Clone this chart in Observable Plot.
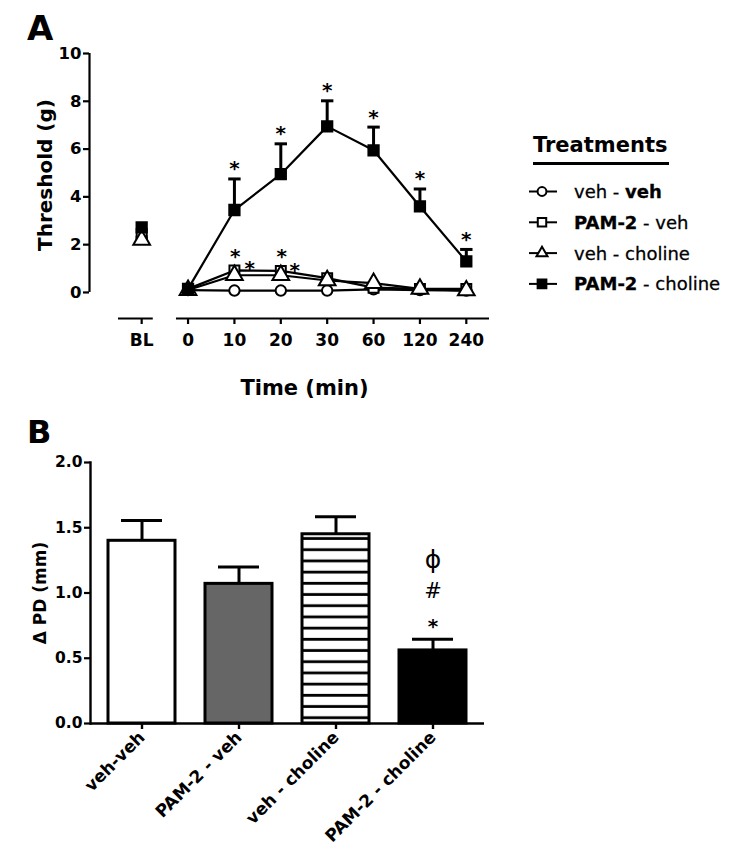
<!DOCTYPE html>
<html>
<head>
<meta charset="utf-8">
<script src="https://cdn.jsdelivr.net/npm/d3@7"></script>
<script src="https://cdn.jsdelivr.net/npm/@observablehq/plot@0.6"></script>
<style>
  body { margin: 0; background: #fff; }
  #root { position: relative; width: 750px; height: 861px; background: #fff; overflow: hidden; }
  #root > svg { position: absolute; left: 0; }
</style>
</head>
<body>
<div id="root"></div>
<script>
// ---------- DATA ----------
const timeLabels = ["BL", "0", "10", "20", "30", "60", "120", "240"];
const seriesNames = ["veh - veh", "PAM-2 - veh", "veh - choline", "PAM-2 - choline"];
const vehVeh = [2.3, 0.1, 0.08, 0.08, 0.08, 0.13, 0.1, 0.08];
const pamVeh = [2.45, 0.15, 0.92, 0.9, 0.6, 0.2, 0.15, 0.15];
const vehCho = [2.2, 0.1, 0.72, 0.72, 0.5, 0.39, 0.15, 0.08];
const pamCho = [2.72, 0.15, 3.45, 4.95, 6.95, 5.95, 3.6, 1.3];
const pamChoErr = [0.1, 0.05, 1.3, 1.27, 1.07, 0.97, 0.73, 0.5];
const pamChoSig = [false, false, true, true, true, true, true, true];
const lowStars = [{t: 2.02, v: 1.73}, {t: 2.33, v: 1.2}, {t: 3.02, v: 1.73}, {t: 3.3, v: 1.13}];
const yTicksA = [0, 2, 4, 6, 8, 10];

const groupsB = ["veh-veh", "PAM-2 - veh", "veh - choline", "PAM-2 - choline"];
const meanB = [1.40, 1.07, 1.45, 0.56];
const semB = [0.155, 0.13, 0.135, 0.085];
const yTicksB = [0, 0.5, 1.0, 1.5, 2.0];
const barFills = ["white", "#666666", "url(#hstripes)", "black"];

// ---------- COMMON ----------
const FONT = "DejaVu Sans, Liberation Sans, Arial, sans-serif";
const root = document.getElementById("root");
const ns = "http://www.w3.org/2000/svg";

// ---------- PANEL A ----------
const seriesValues = [vehVeh, pamVeh, vehCho, pamCho];
const seriesSymbols = ["circle", "square", "triangle", "square"];
const seriesFill = ["white", "white", "white", "black"];
const seriesR = [5.2, 5.6, 6.2, 5.8];
const rowsA = [];
seriesNames.forEach((s, k) => seriesValues[k].forEach((v, i) =>
  rowsA.push({series: s, k, i, v, top: k === 3 ? v + pamChoErr[i] : v, sig: k === 3 && pamChoSig[i]})));
const lineRows = rowsA.filter(d => d.i >= 1);
const errRows = rowsA.filter(d => d.k === 3 && d.i >= 2);
const xLeftA = -1.125, xRightA = 7.5, yBottomA = -1.09;
const axisSegments = [{from: -0.5, to: 0.25}, {from: 0.75, to: xRightA}];
const capSymbol = {draw(ctx, size) { const w = Math.sqrt(size); ctx.moveTo(-w / 2, 0); ctx.lineTo(w / 2, 0); }};

const plotA = Plot.plot({
  width: 750, height: 400,
  marginTop: 53, marginBottom: 82, marginLeft: 89, marginRight: 261,
  x: {domain: [xLeftA, xRightA]},
  y: {domain: [yBottomA, 10]},
  style: {fontFamily: FONT, color: "black", background: "transparent", overflow: "visible"},
  marks: [
    Plot.ruleX([xLeftA], {y1: 0, y2: 10, strokeWidth: 2.2}),
    Plot.ruleY(axisSegments, {x1: "from", x2: "to", y: () => yBottomA, strokeWidth: 2.2}),
    Plot.axisY({ticks: yTicksA, tickSize: 6, tickPadding: 2, fontSize: 16.5, fontWeight: "bold", strokeWidth: 2.2, label: null}),
    Plot.axisX({ticks: d3.range(timeLabels.length), tickFormat: i => timeLabels[i], tickSize: 6, tickPadding: 9, fontSize: 17, fontWeight: "bold", strokeWidth: 2.2, label: null}),
    Plot.line(lineRows, {x: "i", y: "v", z: "series", stroke: "black", strokeWidth: 2.2}),
    Plot.ruleX(errRows, {x: "i", y1: "v", y2: "top", strokeWidth: 3}),
    Plot.dot(errRows, {x: "i", y: "top", symbol: capSymbol, r: 7, fill: "none", stroke: "black", strokeWidth: 3}),
    ...seriesNames.map((s, k) => Plot.dot(rowsA.filter(d => d.k === k), {
      x: "i", y: "v", symbol: seriesSymbols[k], r: seriesR[k], fill: seriesFill[k], stroke: "black", strokeWidth: 2
    })),
    Plot.text(errRows.filter(d => d.sig), {x: "i", y: "top", text: () => "*", dy: -10, fontSize: 20, fontWeight: "bold"}),
    Plot.text(lowStars, {x: "t", y: "v", text: () => "*", dy: 5, fontSize: 20, fontWeight: "bold"}),
    Plot.text(["Threshold (g)"], {frameAnchor: "left", rotate: -90, textAnchor: "middle", lineAnchor: "middle", dx: -44, dy: -11, fontSize: 20, fontWeight: "bold"}),
    Plot.text(["Time (min)"], {frameAnchor: "bottom", textAnchor: "middle", lineAnchor: "middle", dx: 15, dy: 70, fontSize: 21, fontWeight: "bold"})
  ]
});
plotA.style.top = "0px";
root.appendChild(plotA);

// ---------- PANEL B ----------
const rowsB = groupsB.map((g, i) => ({g, m: meanB[i], top: meanB[i] + semB[i]}));
const lastB = rowsB.slice(-1);
const plotB = Plot.plot({
  width: 750, height: 461,
  marginTop: 62, marginBottom: 138, marginLeft: 90, marginRight: 266,
  x: {type: "band", domain: groupsB, paddingInner: 0.31, paddingOuter: 0.17},
  y: {domain: [0, 2]},
  color: {domain: groupsB, range: barFills},
  style: {fontFamily: FONT, color: "black", background: "transparent", overflow: "visible"},
  marks: [
    Plot.barY(rowsB, {x: "g", y: "m", fill: "g", stroke: "black", strokeWidth: 3}),
    Plot.ruleX(rowsB, {x: "g", y1: "m", y2: "top", strokeWidth: 3}),
    Plot.tickY(rowsB, {x: "g", y: "top", strokeWidth: 3, insetLeft: 13, insetRight: 13}),
    Plot.ruleY([0], {strokeWidth: 2.6}),
    Plot.frame({anchor: "left", strokeWidth: 2.4}),
    Plot.axisY({ticks: yTicksB, tickFormat: d3.format(".1f"), tickSize: 6, tickPadding: 2, fontSize: 15.5, fontWeight: "bold", strokeWidth: 2.2, label: null}),
    Plot.axisX({tickRotate: -45, tickSize: 6, tickPadding: 5, fontSize: 17, fontWeight: "bold", strokeWidth: 2.4, label: null}),
    Plot.text(lastB, {x: "g", y: "top", text: () => "*", dy: -13, fontSize: 20, fontWeight: "bold"}),
    Plot.text(lastB, {x: "g", y: "top", text: () => "#", dy: -48, fontSize: 21}),
    Plot.text(lastB, {x: "g", y: "top", text: () => "ϕ", dy: -79, fontSize: 25}),
    Plot.text(["Δ PD (mm)"], {frameAnchor: "left", rotate: -90, textAnchor: "middle", lineAnchor: "middle", dx: -50, dy: 0, fontSize: 17, fontWeight: "bold"})
  ]
});
const defs = document.createElementNS(ns, "defs");
defs.innerHTML = '<pattern id="hstripes" patternUnits="userSpaceOnUse" width="10" height="11.2"><rect width="10" height="11.2" fill="white"/><rect y="2.7" width="10" height="2.8" fill="black"/></pattern>';
plotB.prepend(defs);
plotB.style.top = "400px";
root.appendChild(plotB);

// ---------- OVERLAY: panel tags + legend ----------
const ov = d3.select(root).append("svg")
  .attr("width", 750).attr("height", 861)
  .style("top", "0px")
  .attr("font-family", FONT);
ov.append("text").attr("x", 27).attr("y", 40).attr("font-size", 34).attr("font-weight", "bold").text("A");
ov.append("text").attr("x", 27).attr("y", 443).attr("font-size", 32).attr("font-weight", "bold").text("B");

const lg = ov.append("g").attr("transform", "translate(520,120)");
lg.append("text").attr("x", 13).attr("y", 32).attr("font-size", 21).attr("font-weight", "bold").text("Treatments");
lg.append("line").attr("x1", 13).attr("x2", 149).attr("y1", 43.5).attr("y2", 43.5).attr("stroke", "black").attr("stroke-width", 3);
const legendParts = [
  [["veh - ", "normal"], ["veh", "bold"]],
  [["PAM-2", "bold"], [" - veh", "normal"]],
  [["veh - choline", "normal"]],
  [["PAM-2", "bold"], [" - choline", "normal"]]
];
const d3Sym = {circle: d3.symbolCircle, square: d3.symbolSquare, triangle: d3.symbolTriangle2};
seriesNames.forEach((s, k) => {
  const cy = 71.5 + k * 30.8;
  const g = lg.append("g").attr("transform", `translate(0,${cy})`);
  g.append("line").attr("x1", 9).attr("x2", 37).attr("stroke", "black").attr("stroke-width", 2);
  const r = seriesR[k] * 0.85;
  g.append("path").attr("transform", "translate(22,0)")
    .attr("d", d3.symbol(d3Sym[seriesSymbols[k]], Math.PI * r * r)())
    .attr("fill", seriesFill[k]).attr("stroke", "black").attr("stroke-width", 2);
  const t = g.append("text").attr("x", 54).attr("dy", "0.36em").attr("font-size", 18).attr("stroke", "black").attr("stroke-width", 0.3);
  legendParts[k].forEach(([txt, w]) => t.append("tspan").attr("font-weight", w).text(txt));
});
</script>
</body>
</html>
